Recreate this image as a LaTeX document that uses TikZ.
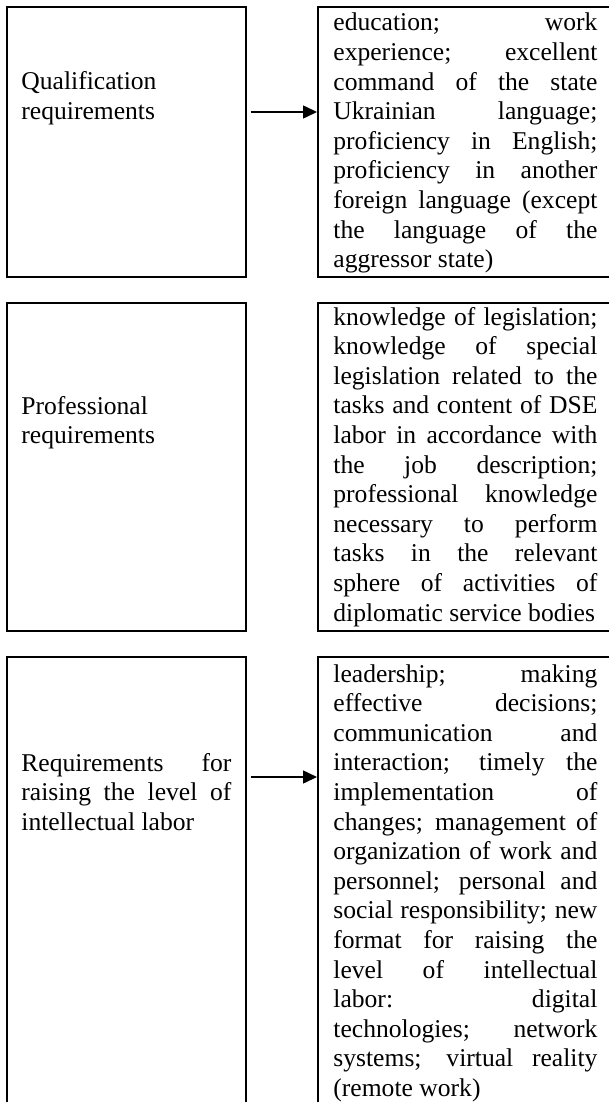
\documentclass[tikz,border=0pt]{standalone}
\usepackage{fontspec}
\setmainfont{Liberation Serif}
\usetikzlibrary{arrows.meta,fit}

\newcommand{\jpar}[2]{\parbox[t]{#1}{\tolerance=10000 \hyphenpenalty=10000 #2}}

\begin{document}
\begin{tikzpicture}[x=0.5pt, y=-0.5pt,
    box/.style={draw, line width=1pt, inner sep=0pt},
    lefttext/.style={anchor=base west, inner sep=0pt, font=\fontsize{12.8}{14.8}\selectfont},
    arr/.style={-{Triangle[length=7pt, width=6.5pt]}, line width=0.75pt, shorten <=2pt}]
    \useasboundingbox (0, 0) rectangle (609, 1102);
    \clip (0, 0) rectangle (609, 1102);

    % Boxes
    \foreach \n/\t/\b in {qual/7.5/276.5, prof/302.5/631, intel/657/1112} {
        \node[box, fit={(6.5, \t) (245.5, \b)}] (\n) {};
        \node[box, fit={(318, \t) (614, \b)}] (\n desc) {};
    }

    % Headings
    \node[lefttext] (qualtxt) at (21, 90) {\jpar{105pt}{Qualification requirements}};
    \node[lefttext] (proftxt) at (21, 414) {\jpar{105pt}{Professional requirements}};
    \node[lefttext] (inteltxt) at (21, 771) {\jpar{105pt}{Requirements for\linebreak raising the level of\linebreak intellectual labor}};

    % Contents
    \node[lefttext] (qualitems) at (333, 31) {\jpar{132pt}{education; work\linebreak experience; excellent\linebreak command of the state\linebreak Ukrainian language;\linebreak proficiency in English;\linebreak proficiency in another\linebreak foreign language (except\linebreak the language of the\linebreak aggressor state)}};
    \node[lefttext] (profitems) at (333, 325) {\jpar{132pt}{knowledge of legislation;\linebreak knowledge of special\linebreak legislation related to the\linebreak tasks and content of DSE\linebreak labor in accordance with\linebreak the job description;\linebreak professional knowledge\linebreak necessary to perform\linebreak tasks in the relevant\linebreak sphere of activities of\linebreak diplomatic service bodies}};
    \node[lefttext] (intelitems) at (333, 682) {\jpar{132pt}{leadership; making\linebreak effective decisions;\linebreak communication and\linebreak interaction; timely the\linebreak implementation of\linebreak changes; management of\linebreak organization of work and\linebreak personnel; personal and\linebreak social responsibility; new\linebreak format for raising the\linebreak level of intellectual\linebreak labor: digital\linebreak technologies; network\linebreak systems; virtual reality\linebreak (remote work)}};

    % Arrows
    \coordinate (a1) at (0, 112);
    \coordinate (a3) at (0, 777);
    \draw[arr] (qual.east |- a1) -- (qualdesc.west |- a1);
    \draw[arr] (intel.east |- a3) -- (inteldesc.west |- a3);
\end{tikzpicture}
\end{document}
